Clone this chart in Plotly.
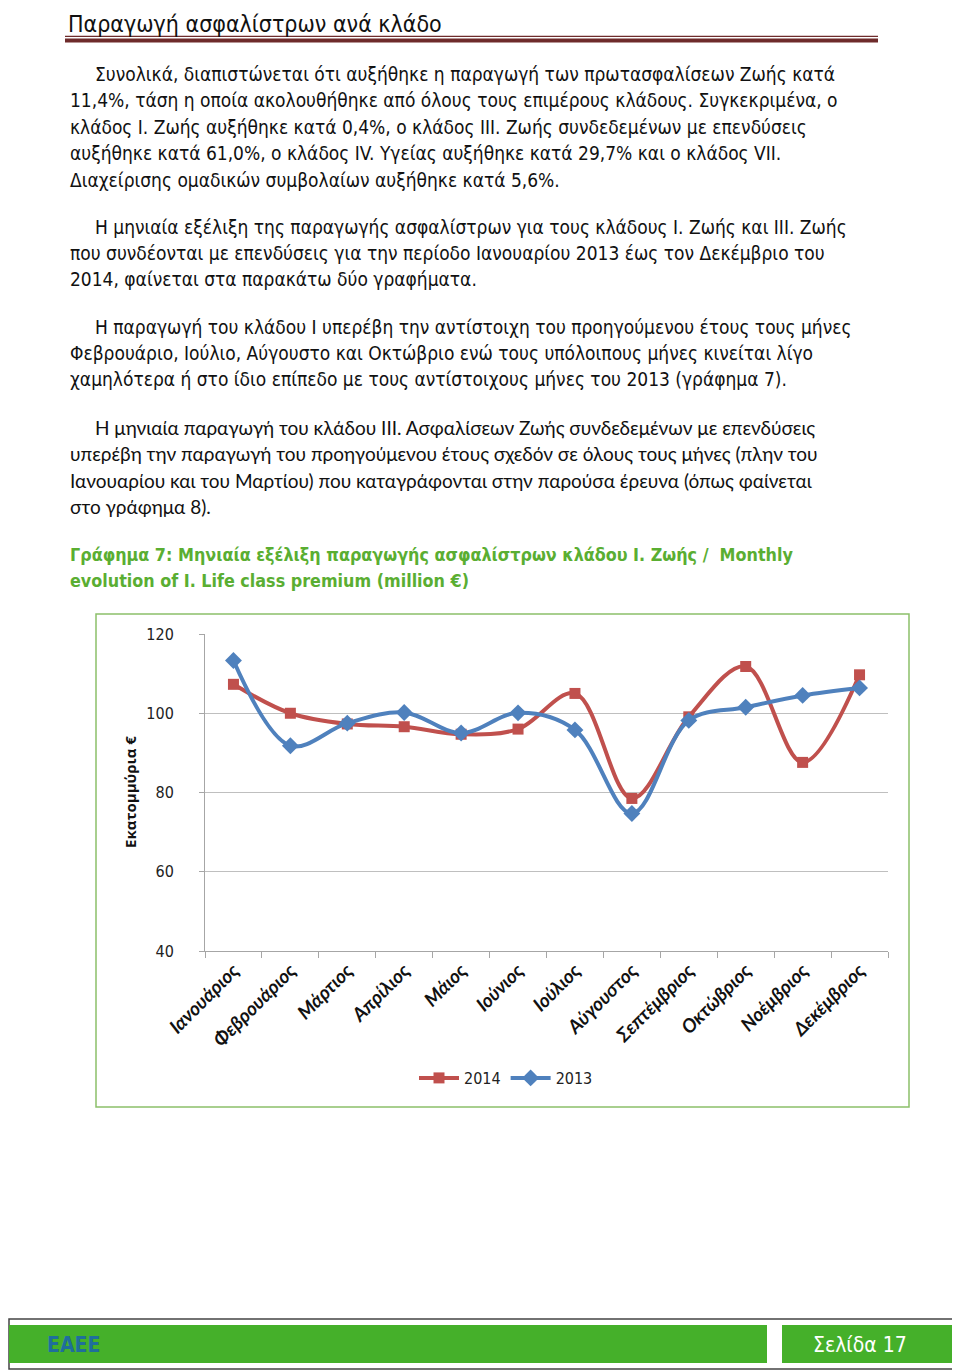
import plotly.graph_objects as go

W, H = 960, 1372
# the page body adds an 8px margin around the figure; positions below are in page pixels
OFFSET = 8

months = ["Ιανουάριος", "Φεβρουάριος", "Μάρτιος", "Απρίλιος", "Μάιος", "Ιούνιος",
          "Ιούλιος", "Αύγουστος", "Σεπτέμβριος", "Οκτώβριος", "Νοέμβριος", "Δεκέμβριος"]
values_2014 = [107.3, 100.0, 97.3, 96.6, 94.7, 96.0, 105.0, 78.5, 99.1, 111.8, 87.6, 109.7]
values_2013 = [113.3, 91.8, 97.5, 100.2, 95.0, 100.1, 95.8, 74.7, 98.2, 101.5, 104.5, 106.4]
y_ticks = [40, 60, 80, 100, 120]

title_text = "Παραγωγή ασφαλίστρων ανά κλάδο"
para_lines = [
    ("Συνολικά, διαπιστώνεται ότι αυξήθηκε η παραγωγή των πρωτασφαλίσεων Ζωής κατά", 93, 74),
    ("11,4%, τάση η οποία ακολουθήθηκε από όλους τους επιμέρους κλάδους. Συγκεκριμένα, ο", 68, 100),
    ("κλάδος Ι. Ζωής αυξήθηκε κατά 0,4%, ο κλάδος ΙΙΙ. Ζωής συνδεδεμένων με επενδύσεις", 68, 127),
    ("αυξήθηκε κατά 61,0%, ο κλάδος IV. Υγείας αυξήθηκε κατά 29,7% και ο κλάδος VII.", 68, 153),
    ("Διαχείρισης ομαδικών συμβολαίων αυξήθηκε κατά 5,6%.", 68, 180),
    ("Η μηνιαία εξέλιξη της παραγωγής ασφαλίστρων για τους κλάδους Ι. Ζωής και ΙΙΙ. Ζωής", 93, 227),
    ("που συνδέονται με επενδύσεις για την περίοδο Ιανουαρίου 2013 έως τον Δεκέμβριο του", 68, 253),
    ("2014, φαίνεται στα παρακάτω δύο γραφήματα.", 68, 279),
    ("Η παραγωγή του κλάδου Ι υπερέβη την αντίστοιχη του προηγούμενου έτους τους μήνες", 93, 327),
    ("Φεβρουάριο, Ιούλιο, Αύγουστο και Οκτώβριο ενώ τους υπόλοιπους μήνες κινείται λίγο", 68, 353),
    ("χαμηλότερα ή στο ίδιο επίπεδο με τους αντίστοιχους μήνες του 2013 (γράφημα 7).", 68, 379),
]
para4_lines = [
    ("Η μηνιαία παραγωγή του κλάδου ΙΙΙ. Ασφαλίσεων Ζωής συνδεδεμένων με επενδύσεις", 93, 427),
    ("υπερέβη την παραγωγή του προηγούμενου έτους σχεδόν σε όλους τους μήνες (πλην του", 68, 453),
    ("Ιανουαρίου και του Μαρτίου) που καταγράφονται στην παρούσα έρευνα (όπως φαίνεται", 68, 480),
    ("στο γράφημα 8).", 68, 506),
]
caption_lines = [
    ("Γράφημα 7: Μηνιαία εξέλιξη παραγωγής ασφαλίστρων κλάδου Ι. Ζωής /  Monthly", 68, 554),
    ("evolution of I. Life class premium (million €)", 68, 580),
]


def px(x):
    return (x - OFFSET) / W


def py(y):
    return 1 - (y - OFFSET) / H


NARROW = "Liberation Sans Narrow, Arial Narrow, DejaVu Sans Condensed, sans-serif"
RED = "#C0504D"
BLUE = "#4F81BD"

fig = go.Figure()
fig.add_trace(go.Scatter(
    x=months, y=values_2014, name="2014", mode="lines+markers",
    line=dict(color=RED, width=4, shape="spline", smoothing=1.0),
    marker=dict(symbol="square", size=11, color=RED),
))
fig.add_trace(go.Scatter(
    x=months, y=values_2013, name="2013", mode="lines+markers",
    line=dict(color=BLUE, width=4, shape="spline", smoothing=1.0),
    marker=dict(symbol="diamond", size=13, color=BLUE),
))

plot_l, plot_r, plot_t, plot_b = 205, 888, 634, 951

fig.update_layout(
    width=W, height=H, autosize=False,
    margin=dict(l=0, r=0, t=0, b=0, pad=0, autoexpand=False),
    paper_bgcolor="white", plot_bgcolor="white",
    showlegend=True,
    legend=dict(orientation="h", x=px(506), y=py(1078), xanchor="center", yanchor="middle",
                font=dict(family=NARROW, size=16, color="#222"), traceorder="normal",
                itemwidth=40, bgcolor="rgba(0,0,0,0)"),
    xaxis=dict(domain=[px(plot_l), px(plot_r)], type="category", automargin=False,
               range=[-0.5, len(months) - 0.5],
               showline=True, linecolor="#A6A6A6", linewidth=1,
               ticks="outside", tickson="boundaries", ticklen=6, tickcolor="#A6A6A6",
               showgrid=False, tickangle=-45,
               tickfont=dict(family="Lato, Open Sans, sans-serif", size=19, color="#111",
                             weight="bold", style="italic")),
    yaxis=dict(domain=[py(plot_b), py(plot_t)], range=[40, 120], tickvals=y_ticks, automargin=False,
               showline=True, linecolor="#A6A6A6", linewidth=1,
               ticks="outside", ticklen=5, tickcolor="#A6A6A6",
               showgrid=True, gridcolor="#BFBFBF", gridwidth=1, zeroline=False,
               tickfont=dict(family=NARROW, size=16, color="#222"),
               ticklabelstandoff=22),
)

annotations = []
annotations.append(dict(text=title_text, x=px(66), y=py(9), xref="paper", yref="paper",
                        xanchor="left", yanchor="top", showarrow=False,
                        font=dict(family=NARROW, size=23, color="#111")))
for t, x, y in para_lines:
    annotations.append(dict(text=t, x=px(x), y=py(y), xref="paper", yref="paper",
                            xanchor="left", yanchor="middle", showarrow=False,
                            font=dict(family=NARROW, size=19, color="#111")))
for t, x, y in para4_lines:
    annotations.append(dict(text=t, x=px(x), y=py(y), xref="paper", yref="paper",
                            xanchor="left", yanchor="middle", showarrow=False,
                            font=dict(family="Lato, Open Sans, sans-serif", size=19, color="#111")))
for t, x, y in caption_lines:
    annotations.append(dict(text=t, x=px(x), y=py(y), xref="paper", yref="paper",
                            xanchor="left", yanchor="middle", showarrow=False,
                            font=dict(family=NARROW, size=17.8, color="#5AAE32", weight="bold")))
annotations.append(dict(text="Εκατομμύρια €", x=px(130), y=py(792), xref="paper", yref="paper",
                        xanchor="center", yanchor="middle", showarrow=False, textangle=-90,
                        font=dict(family="Open Sans, sans-serif", size=15, color="#111", weight="bold")))
annotations.append(dict(text="<b>ΕΑΕΕ</b>", x=px(45), y=py(1345), xref="paper", yref="paper",
                        xanchor="left", yanchor="middle", showarrow=False,
                        font=dict(family=NARROW, size=21, color="#1F6E9C")))
annotations.append(dict(text="Σελίδα 17", x=px(860), y=py(1345), xref="paper", yref="paper",
                        xanchor="center", yanchor="middle", showarrow=False,
                        font=dict(family=NARROW, size=21, color="white")))
fig.update_layout(annotations=annotations)

shapes = []
shapes.append(dict(type="rect", xref="paper", yref="paper", x0=px(65), x1=px(878), y0=py(37), y1=py(35.7),
                   fillcolor="#6E2B2B", line=dict(width=0)))
shapes.append(dict(type="rect", xref="paper", yref="paper", x0=px(65), x1=px(878), y0=py(42.5), y1=py(38.5),
                   fillcolor="#6E2B2B", line=dict(width=0)))
shapes.append(dict(type="rect", xref="paper", yref="paper", x0=px(96), x1=px(909), y0=py(1107), y1=py(614),
                   line=dict(color="#8CC06A", width=1.5), fillcolor="rgba(0,0,0,0)"))
shapes.append(dict(type="rect", xref="paper", yref="paper", x0=px(9), x1=px(958), y0=py(1369), y1=py(1319),
                   line=dict(color="#444", width=1.5), fillcolor="white"))
shapes.append(dict(type="rect", xref="paper", yref="paper", x0=px(9), x1=px(767), y0=py(1363), y1=py(1325),
                   line=dict(width=0), fillcolor="#45B02A"))
shapes.append(dict(type="rect", xref="paper", yref="paper", x0=px(782), x1=px(953), y0=py(1363), y1=py(1325),
                   line=dict(width=0), fillcolor="#45B02A"))
fig.update_layout(shapes=shapes)

fig.write_html("out.html")
